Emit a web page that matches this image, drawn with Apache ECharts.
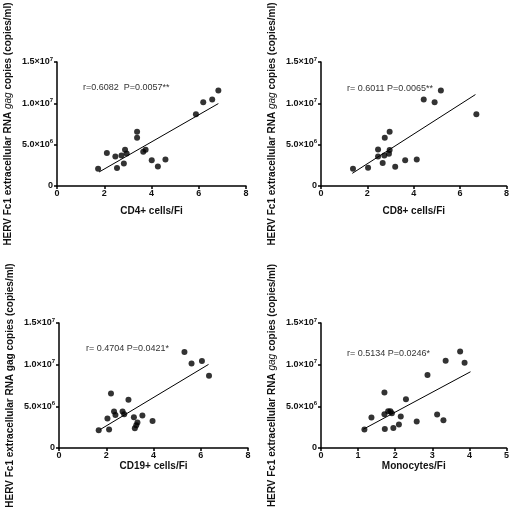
<!DOCTYPE html>
<html>
<head>
<meta charset="utf-8">
<script src="https://cdn.jsdelivr.net/npm/echarts@6/dist/echarts.min.js"></script>
<style>html,body{margin:0;padding:0;background:#fff;}#c{width:512px;height:510px;}</style>
</head>
<body>
<div id="c"></div>
<script>
// Panel 1: CD4+ cells/Fi
var cd4X = [1.74, 2.11, 2.47, 2.54, 2.73, 2.83, 2.88, 2.95, 3.39, 3.39, 3.65, 3.75, 4.01, 4.27, 4.59, 5.88, 6.19, 6.57, 6.83];
var cd4Y = [2.09e6, 3.98e6, 3.58e6, 2.17e6, 3.70e6, 2.73e6, 4.38e6, 3.94e6, 6.55e6, 5.83e6, 4.14e6, 4.38e6, 3.10e6, 2.37e6, 3.22e6, 8.69e6, 10.13e6, 10.45e6, 11.54e6];
var cd4Fit = [[1.78, 1.69e6], [6.83, 9.97e6]];
// Panel 2: CD8+ cells/Fi
var cd8X = [1.38, 2.03, 2.46, 2.46, 2.66, 2.73, 2.75, 2.93, 2.96, 2.96, 3.20, 3.63, 4.13, 4.43, 4.90, 5.17, 6.70];
var cd8Y = [2.09e6, 2.21e6, 4.42e6, 3.58e6, 2.77e6, 3.70e6, 5.83e6, 3.90e6, 4.34e6, 6.55e6, 2.33e6, 3.10e6, 3.22e6, 10.45e6, 10.13e6, 11.54e6, 8.69e6];
var cd8Fit = [[1.35, 1.53e6], [6.66, 11.06e6]];
// Panel 3: CD19+ cells/Fi
var cd19X = [1.68, 2.05, 2.12, 2.20, 2.33, 2.39, 2.69, 2.76, 2.94, 3.17, 3.21, 3.27, 3.32, 3.53, 3.96, 5.31, 5.61, 6.05, 6.35];
var cd19Y = [2.13e6, 3.53e6, 2.21e6, 6.54e6, 4.37e6, 3.97e6, 4.37e6, 4.05e6, 5.78e6, 3.69e6, 2.37e6, 2.73e6, 3.05e6, 3.89e6, 3.25e6, 11.51e6, 10.15e6, 10.43e6, 8.66e6];
var cd19Fit = [[1.74, 2.21e6], [6.33, 10.03e6]];
// Panel 4: Monocytes/Fi
var monoX = [1.17, 1.36, 1.71, 1.71, 1.72, 1.81, 1.87, 1.91, 1.95, 2.10, 2.15, 2.29, 2.58, 2.87, 3.13, 3.30, 3.36, 3.75, 3.87];
var monoY = [2.21e6, 3.65e6, 6.66e6, 4.05e6, 2.29e6, 4.41e6, 4.41e6, 4.17e6, 2.41e6, 2.81e6, 3.77e6, 5.86e6, 3.17e6, 8.75e6, 4.01e6, 3.33e6, 10.48e6, 11.57e6, 10.24e6];
var monoFit = [[1.14, 2.25e6], [4.03, 9.15e6]];

var xTitles = ['CD4+ cells/Fi', 'CD8+ cells/Fi', 'CD19+ cells/Fi', 'Monocytes/Fi'];
var xMax = [8, 8, 8, 5];
var xInterval = [2, 2, 2, 1];
var yTicks = {0: '0', 5000000: '{m|5.0×10}{s|6}', 10000000: '{m|1.0×10}{s|7}', 15000000: '{m|1.5×10}{s|7}'};
var statTexts = ['r=0.6082  P=0.0057**', 'r= 0.6011 P=0.0065**', 'r= 0.4704 P=0.0421*', 'r= 0.5134 P=0.0246*'];
var yTitleItalic = [true, true, false, true];

var xs = [cd4X, cd8X, cd19X, monoX];
var ys = [cd4Y, cd8Y, cd19Y, monoY];
var fits = [cd4Fit, cd8Fit, cd19Fit, monoFit];

var grids = [
  {left: 57, top: 62, width: 189, height: 124},
  {left: 321, top: 62, width: 189, height: 124},
  {left: 59, top: 323, width: 189, height: 125},
  {left: 321, top: 323, width: 189, height: 125}
];
var xNameGap = [20, 20, 13, 13];
var statPos = [[83, 83], [347, 84], [86, 344], [347, 349]];

var font = 'Liberation Sans, Arial, sans-serif';
var option = {
  backgroundColor: '#fff',
  animation: false,
  grid: grids,
  xAxis: [], yAxis: [], series: [], graphic: []
};
for (var i = 0; i < 4; i++) {
  option.xAxis.push({
    gridIndex: i, type: 'value', min: 0, max: xMax[i], interval: xInterval[i],
    name: xTitles[i], nameLocation: 'middle', nameGap: xNameGap[i],
    nameTextStyle: {fontFamily: font, fontSize: 10, fontWeight: 'bold', color: '#111'},
    axisLine: {onZero: false, lineStyle: {color: '#000', width: 1.5}},
    axisTick: {length: 3, lineStyle: {color: '#000', width: 1.5}},
    axisLabel: {fontFamily: font, fontSize: 9, fontWeight: 'bold', color: '#111', margin: 3},
    splitLine: {show: false}
  });
  var it = yTitleItalic[i];
  option.yAxis.push({
    gridIndex: i, type: 'value', min: 0, max: 15000000, interval: 5000000,
    name: it ? '{b|HERV Fc1 extracellular RNA }{i|gag}{b| copies (copies/ml)}' : 'HERV Fc1 extracellular RNA gag copies (copies/ml)',
    nameLocation: 'middle', nameRotate: 90, nameGap: 44,
    nameTextStyle: {fontFamily: font, fontSize: 10, fontWeight: 'bold', color: '#111',
      rich: {
        b: {fontFamily: font, fontSize: 10, fontWeight: 'bold', color: '#111'},
        i: {fontFamily: font, fontSize: 10, fontWeight: 'normal', fontStyle: 'italic', color: '#111'}
      }},
    axisLine: {onZero: false, lineStyle: {color: '#000', width: 1.5}},
    axisTick: {length: 3, lineStyle: {color: '#000', width: 1.5}},
    axisLabel: {
      margin: 4, fontFamily: font, fontSize: 9, fontWeight: 'bold', color: '#111',
      formatter: function (v) { return yTicks[v] !== undefined ? yTicks[v] : ''; },
      rich: {
        m: {fontFamily: font, fontSize: 9, fontWeight: 'bold', color: '#111'},
        s: {fontFamily: font, fontSize: 6, fontWeight: 'bold', color: '#111', verticalAlign: 'top', padding: [0, 0, 6, 0]}
      }
    },
    splitLine: {show: false}
  });
  var pts = xs[i].map(function (x, k) { return [x, ys[i][k]]; });
  option.series.push({
    type: 'scatter', xAxisIndex: i, yAxisIndex: i, data: pts,
    symbol: 'circle', symbolSize: 6, itemStyle: {color: '#000'}
  });
  option.series.push({
    type: 'line', xAxisIndex: i, yAxisIndex: i, data: fits[i],
    symbol: 'none', lineStyle: {color: '#000', width: 1}
  });
  option.graphic.push({
    type: 'text', left: statPos[i][0], top: statPos[i][1],
    style: {text: statTexts[i], font: '9px ' + font, fill: '#333'}
  });
}
var chart = echarts.init(document.getElementById('c'), null, {renderer: 'canvas'});
chart.setOption(option);
</script>
</body>
</html>
